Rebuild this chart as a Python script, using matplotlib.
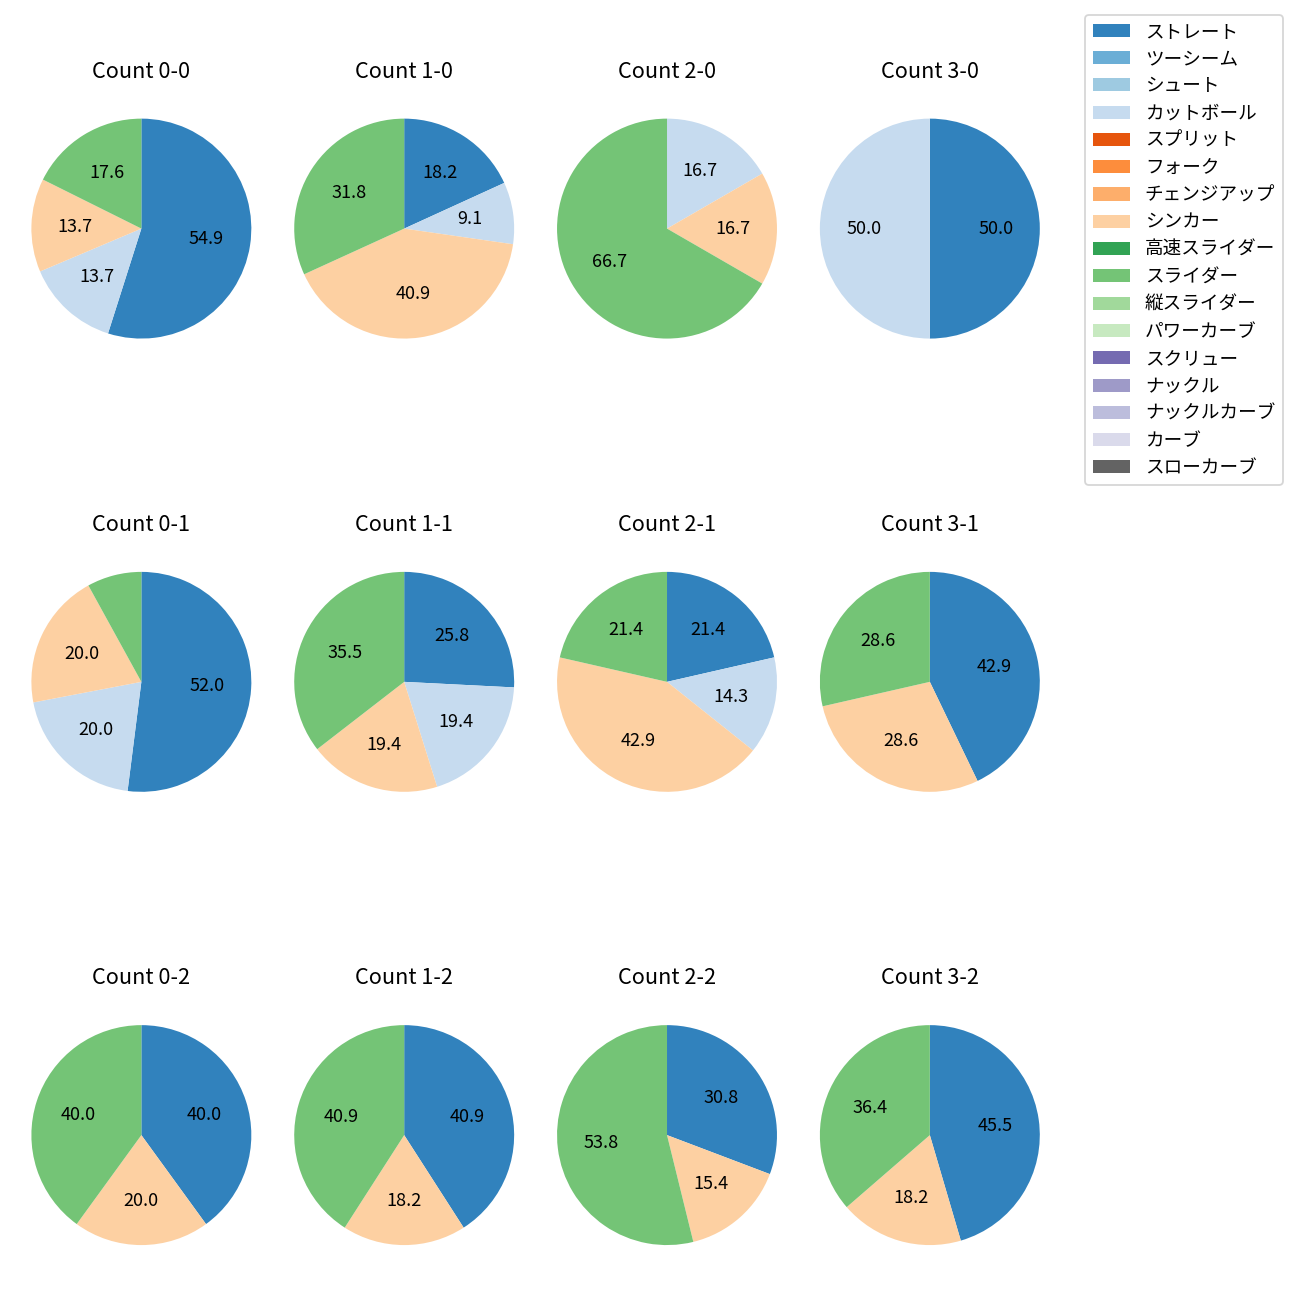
import numpy as np
import matplotlib
matplotlib.use('Agg')
import matplotlib.pyplot as plt

plt.rcParams['font.family'] = ['Noto Sans CJK JP', 'DejaVu Sans']

pitch_types = ['ストレート', 'ツーシーム', 'シュート', 'カットボール', 'スプリット', 'フォーク',
               'チェンジアップ', 'シンカー', '高速スライダー', 'スライダー', '縦スライダー',
               'パワーカーブ', 'スクリュー', 'ナックル', 'ナックルカーブ', 'カーブ', 'スローカーブ']

# counts in order: 0-0,1-0,2-0,3-0, 0-1,...,3-1, 0-2,...,3-2  (balls-strikes)
count_labels = ['0-0', '1-0', '2-0', '3-0',
                '0-1', '1-1', '2-1', '3-1',
                '0-2', '1-2', '2-2', '3-2']
straight = [28, 4, 0, 1, 13, 8, 3, 3, 2, 9, 4, 5]
cutter   = [7, 2, 1, 1, 5, 6, 2, 0, 0, 0, 0, 0]
sinker   = [7, 9, 1, 0, 5, 6, 6, 2, 1, 4, 2, 2]
slider   = [9, 7, 4, 0, 2, 11, 3, 2, 2, 9, 7, 4]

cmap = plt.get_cmap('tab20c')
colors = [cmap(i) for i in range(len(pitch_types))]

fig, axes = plt.subplots(3, 4, figsize=(10, 10), dpi=130)
fig.subplots_adjust(left=0.003, right=0.821, bottom=0.021, top=0.93,
                    wspace=-0.044, hspace=0.647)

handles = None
for i, ax in enumerate(axes.flat):
    vals = np.zeros(len(pitch_types))
    vals[pitch_types.index('ストレート')] = straight[i]
    vals[pitch_types.index('カットボール')] = cutter[i]
    vals[pitch_types.index('シンカー')] = sinker[i]
    vals[pitch_types.index('スライダー')] = slider[i]
    wedges, _, _ = ax.pie(vals, colors=colors, startangle=90, counterclock=False,
                          autopct=lambda p: f'{p:.1f}' if p >= 9 else '')
    ax.set_title(f'Count {count_labels[i]}', fontsize=12, pad=7.5)
    if handles is None:
        handles = wedges

fig.legend(handles, pitch_types, loc='upper right', bbox_to_anchor=(0.9938, 0.9954),
           fontsize=10.3)

plt.savefig('out.png')
